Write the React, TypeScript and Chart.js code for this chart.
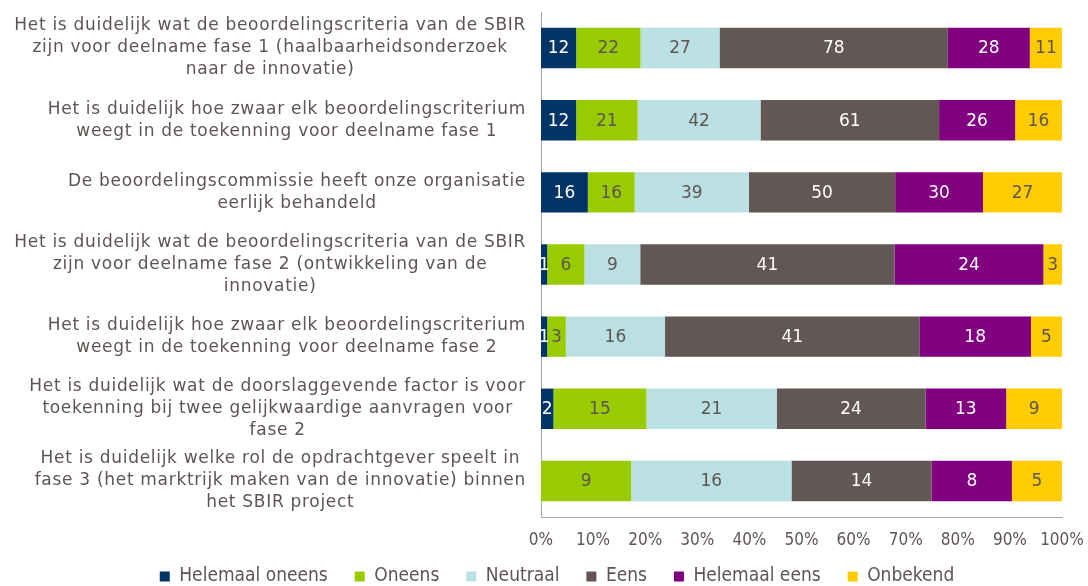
import React, { useEffect, useRef } from "react";
import { Chart, registerables } from "chart.js";

Chart.register(...registerables);

const categories: string[][] = [
  ["Het is duidelijk wat de beoordelingscriteria van de SBIR", "zijn voor deelname fase 1 (haalbaarheidsonderzoek", "naar de innovatie)"],
  ["Het is duidelijk hoe zwaar elk beoordelingscriterium", "weegt in de toekenning voor deelname fase 1"],
  ["De beoordelingscommissie heeft onze organisatie", "eerlijk behandeld"],
  ["Het is duidelijk wat de beoordelingscriteria van de SBIR", "zijn voor deelname fase 2 (ontwikkeling van de", "innovatie)"],
  ["Het is duidelijk hoe zwaar elk beoordelingscriterium", "weegt in de toekenning voor deelname fase 2"],
  ["Het is duidelijk wat de doorslaggevende factor is voor", "toekenning bij twee gelijkwaardige aanvragen voor", "fase 2"],
  ["Het is duidelijk welke rol de opdrachtgever speelt in", "fase 3 (het marktrijk maken van de innovatie) binnen", "het SBIR project"],
];

const helemaalOneens = [12, 12, 16, 1, 1, 2, 0];
const oneens = [22, 21, 16, 6, 3, 15, 9];
const neutraal = [27, 42, 39, 9, 16, 21, 16];
const eens = [78, 61, 50, 41, 41, 24, 14];
const helemaalEens = [28, 26, 30, 24, 18, 13, 8];
const onbekend = [11, 16, 27, 3, 5, 9, 5];

const seriesNames = ["Helemaal oneens", "Oneens", "Neutraal", "Eens", "Helemaal eens", "Onbekend"];
const seriesValues = [helemaalOneens, oneens, neutraal, eens, helemaalEens, onbekend];
const seriesColors = ["#003366", "#99cc00", "#bbe0e3", "#625755", "#800080", "#ffcc00"];
const labelColors = ["#ffffff", "#5e5553", "#5e5553", "#ffffff", "#ffffff", "#5e5553"];
const xTicks = [0, 10, 20, 30, 40, 50, 60, 70, 80, 90, 100];

const TEXT = "#5e5553";
const FONT = "'DejaVu Sans', Verdana, sans-serif";
const COND = "'DejaVu Sans Condensed', 'Liberation Sans Narrow', 'DejaVu Sans', sans-serif";

export default function App() {
  const ref = useRef<HTMLCanvasElement>(null);

  useEffect(() => {
    if (!ref.current) return;
    const totals = categories.map((_, i) => seriesValues.reduce((s, arr) => s + arr[i], 0));

    const valueLabels = {
      id: "valueLabels",
      afterDatasetsDraw(chart: any) {
        const ctx = chart.ctx;
        ctx.save();
        ctx.font = `17px ${FONT}`;
        ctx.textAlign = "center";
        ctx.textBaseline = "middle";
        chart.data.datasets.forEach((ds: any, di: number) => {
          const meta = chart.getDatasetMeta(di);
          meta.data.forEach((bar: any, i: number) => {
            const v = seriesValues[di][i];
            if (!v) return;
            ctx.fillStyle = labelColors[di];
            ctx.fillText(String(v), (bar.x + bar.base) / 2, bar.y + 1);
          });
        });
        ctx.restore();
      },
    };

    const categoryLabels = {
      id: "categoryLabels",
      afterDraw(chart: any) {
        const ctx = chart.ctx;
        const y = chart.scales.y;
        ctx.save();
        ctx.font = `17px ${FONT}`;
        try { (ctx as any).letterSpacing = "0.7px"; } catch (e) {}
        ctx.fillStyle = TEXT;
        ctx.textAlign = "center";
        ctx.textBaseline = "middle";
        const right = chart.chartArea.left - 15;
        categories.forEach((lines, i) => {
          const cy = y.getPixelForValue(i);
          const maxW = Math.max(...lines.map((l) => ctx.measureText(l).width));
          const cx = right - maxW / 2;
          const lh = 22;
          lines.forEach((l, j) => {
            ctx.fillText(l, cx, cy + (j - (lines.length - 1) / 2) * lh);
          });
        });
        ctx.restore();
      },
    };

    const legendShift = {
      id: "legendShift",
      afterLayout(chart: any) {
        if (chart.legend) {
          chart.legend.left += 26;
          chart.legend.right += 26;
          chart.legend.top -= 13;
          chart.legend.bottom -= 13;
        }
      },
    };

    const chart = new Chart(ref.current, {
      type: "bar",
      data: {
        labels: categories.map((l) => l.join(" ")),
        datasets: seriesNames.map((name, di) => ({
          label: name,
          data: seriesValues[di].map((v, i) => (v / totals[i]) * 100),
          backgroundColor: seriesColors[di],
          borderWidth: 0,
          categoryPercentage: 0.56,
          barPercentage: 1,
        })),
      },
      options: {
        indexAxis: "y",
        animation: false,
        responsive: true,
        maintainAspectRatio: false,
        layout: { padding: { top: 12, right: 26, left: 0, bottom: 0 } },
        scales: {
          x: {
            stacked: true,
            min: 0,
            max: 100,
            afterBuildTicks(scale: any) {
              scale.ticks = xTicks.map((v) => ({ value: v }));
            },
            afterFit(scale: any) {
              scale.height = 36;
              scale.paddingLeft = 0;
              scale.paddingRight = 0;
            },
            grid: { display: false, drawTicks: false },
            border: { display: true, color: "#a6a6a6", width: 1 },
            ticks: {
              padding: 13,
              color: TEXT,
              font: { family: COND, size: 17 },
              maxRotation: 0,
              autoSkip: false,
              callback: (v: any) => `${v}%`,
            },
          },
          y: {
            stacked: true,
            afterFit(scale: any) {
              scale.width = 541;
            },
            grid: { display: false, drawTicks: false },
            border: { display: true, color: "#a6a6a6", width: 1 },
            ticks: { display: false },
          },
        },
        plugins: {
          legend: {
            position: "bottom",
            labels: {
              boxWidth: 10,
              boxHeight: 10,
              padding: 27,
              color: TEXT,
              font: { family: COND, size: 19 },
            },
          },
          tooltip: { enabled: false },
        },
      },
      plugins: [valueLabels, categoryLabels, legendShift],
    });
    return () => chart.destroy();
  }, []);

  return (
    <div style={{ position: "fixed", left: 0, top: 0, width: 1088, height: 586, overflow: "hidden", background: "#fff" }}>
      <div style={{ position: "relative", width: 1088, height: 609 }}>
        <canvas ref={ref} />
      </div>
    </div>
  );
}
